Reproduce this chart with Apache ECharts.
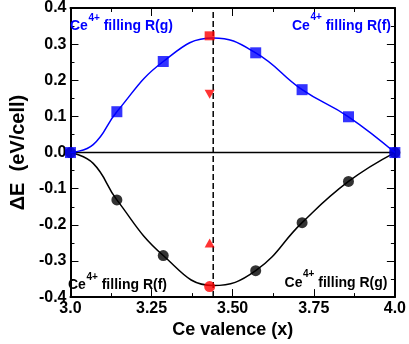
<!DOCTYPE html>
<html><head><meta charset="utf-8">
<script src="https://cdn.jsdelivr.net/npm/echarts@6/dist/echarts.min.js"></script>
<style>html,body{margin:0;padding:0;background:#fff}#c{width:409px;height:344px}</style>
</head><body><div id="c"></div>
<script>
// ---- data ----
const xTickValues = [3.0, 3.25, 3.5, 3.75, 4.0];
const xTickLabels = ['3.0', '3.25', '3.50', '3.75', '4.0'];
const yTickValues = [-0.4, -0.3, -0.2, -0.1, 0.0, 0.1, 0.2, 0.3, 0.4];
const yTickLabels = ['-0.4', '-0.3', '-0.2', '-0.1', '0.0', '0.1', '0.2', '0.3', '0.4'];

const valenceX = [3.0, 3.143, 3.286, 3.571, 3.714, 3.857, 4.0];
const blueSquares = [0.0, 0.113, 0.252, 0.276, 0.174, 0.099, 0.0];
const blackCircles = [0.0, -0.131, -0.285, -0.327, -0.194, -0.080, 0.0];

const curveX = [3.0, 3.07, 3.143, 3.286, 3.44, 3.571, 3.714, 3.857, 4.0];
const blueCurve = [0.0, 0.022, 0.113, 0.252, 0.317, 0.276, 0.174, 0.099, 0.0];
const blackCurve = [0.0, -0.03, -0.131, -0.285, -0.368, -0.327, -0.194, -0.080, 0.0];

const redX = 3.429;
const redSquare = 0.323;
const redTriDown = 0.161;
const redTriUp = -0.250;
const redCircle = -0.371;

const dashedX = 3.44;
const zeroLineX = [3.0, 4.0];
const zeroLineY = [0.0, 0.0];

const annotations = [
  {tail: ' filling R(g)', color: '#0000ff'},
  {tail: ' filling R(f)', color: '#0000ff'},
  {tail: ' filling R(f)', color: '#000000'},
  {tail: ' filling R(g)', color: '#000000'}
];

// ---- chart ----
const zip = (xs, ys) => xs.map((x, i) => [x, ys[i]]);
const FAM = '"Liberation Sans", Arial, Helvetica, sans-serif';
const chart = echarts.init(document.getElementById('c'), null, {renderer: 'canvas'});

function xFmt(v) { const i = xTickValues.findIndex(t => Math.abs(t - v) < 1e-6); return i >= 0 ? xTickLabels[i] : ''; }
function yFmt(v) { const i = yTickValues.findIndex(t => Math.abs(t - v) < 1e-6); return i >= 0 ? yTickLabels[i] : ''; }

const mctx = document.createElement('canvas').getContext('2d');
function measure(text, font) { mctx.font = font; return mctx.measureText(text).width; }

const MAIN_FONT = 'bold 14px ' + FAM;
const SUP_FONT = 'bold 10px ' + FAM;
// build one "Ce^4+ filling ..." label as three text pieces placed on a baseline
function annot(a, anchorX, baseline, alignRight) {
  const wCe = measure('Ce', MAIN_FONT);
  const wSup = measure('4+', SUP_FONT);
  const wTail = measure(a.tail, MAIN_FONT);
  const total = wCe + wSup + wTail;
  const x0 = alignRight ? anchorX - total : anchorX;
  const mainY = baseline - 0.36 * 14;
  const supY = baseline - 10 - 0.36 * 10;
  const mk = (t, x, y, font) => ({type: 'text', x: x, y: y, z: 100,
    style: {text: t, font: font, fill: a.color, align: 'left', verticalAlign: 'middle',
            textAlign: 'left', textVerticalAlign: 'middle'}});
  return [
    mk('Ce', x0, mainY, MAIN_FONT),
    mk('4+', x0 + wCe + 0.5, supY, SUP_FONT),
    mk(a.tail, x0 + wCe + wSup + 0.5, mainY, MAIN_FONT)
  ];
}

const axisCommon = {
  type: 'value',
  axisLine: {show: true, onZero: false, lineStyle: {color: '#000', width: 2}},
  axisTick: {show: true, inside: true, length: 8, lineStyle: {color: '#000', width: 1}},
  minorTick: {show: true, splitNumber: 2, length: 4, lineStyle: {color: '#000', width: 1}},
  splitLine: {show: false},
  minorSplitLine: {show: false}
};

const option = {
  animation: false,
  backgroundColor: '#fff',
  grid: {left: 58, right: 13, top: 7.5, bottom: 41.5},
  xAxis: [
    Object.assign({}, axisCommon, {
      position: 'bottom', min: 3.0, max: 4.0, interval: 0.25,
      axisLabel: {formatter: xFmt, color: '#000', fontFamily: FAM, fontWeight: 'bold', fontSize: 16, margin: 3},
      name: 'Ce valence (x)', nameLocation: 'middle', nameGap: 21,
      nameTextStyle: {color: '#000', fontFamily: FAM, fontWeight: 'bold', fontSize: 18}
    }),
    Object.assign({}, axisCommon, {
      position: 'top', min: 3.0, max: 4.0, interval: 0.25, axisLabel: {show: false}
    })
  ],
  yAxis: [
    Object.assign({}, axisCommon, {
      position: 'left', min: -0.4, max: 0.4, interval: 0.1,
      axisLabel: {formatter: yFmt, color: '#000', fontFamily: FAM, fontWeight: 'bold', fontSize: 16, margin: 4},
      name: 'ΔE  (eV/cell)', nameLocation: 'middle', nameGap: 36, nameRotate: 90,
      nameTextStyle: {color: '#000', fontFamily: FAM, fontWeight: 'bold', fontSize: 20}
    }),
    Object.assign({}, axisCommon, {
      position: 'right', min: -0.4, max: 0.4, interval: 0.1, axisLabel: {show: false}
    })
  ],
  graphic: [].concat(
    annot(annotations[0], 70, 31.5, false),
    annot(annotations[1], 390.5, 31, true),
    annot(annotations[2], 68, 290.5, false),
    annot(annotations[3], 387, 288, true)
  ),
  series: [
    {type: 'line', data: zip(zeroLineX, zeroLineY), symbol: 'none', lineStyle: {color: '#000', width: 1.5}, z: 1},
    {type: 'line', data: [[dashedX, -0.4], [dashedX, 0.4]], symbol: 'none',
      lineStyle: {color: '#000', width: 1.5, type: [6, 3]}, z: 1},
    {type: 'line', data: zip(curveX, blackCurve), smooth: 0.45, symbol: 'none', lineStyle: {color: '#000', width: 1.5}, z: 2},
    {type: 'scatter', data: zip(valenceX, blackCircles), symbol: 'circle', symbolSize: 11, itemStyle: {color: '#000'}, z: 3},
    {type: 'line', data: zip(curveX, blueCurve), smooth: 0.45, symbol: 'none', lineStyle: {color: '#0000ff', width: 1.5}, z: 4},
    {type: 'scatter', data: zip(valenceX, blueSquares), symbol: 'rect', symbolSize: 11, itemStyle: {color: '#0000ff'}, z: 5},
    {type: 'scatter', data: [[redX, redSquare]], symbol: 'rect', symbolSize: [10, 9], itemStyle: {color: '#ff0000'}, z: 6},
    {type: 'scatter', data: [[redX, redTriDown]], symbol: 'triangle', symbolRotate: 180, symbolSize: [10, 9], itemStyle: {color: '#ff0000'}, z: 6},
    {type: 'scatter', data: [[redX, redTriUp]], symbol: 'triangle', symbolSize: [10, 9], itemStyle: {color: '#ff0000'}, z: 6},
    {type: 'scatter', data: [[redX, redCircle]], symbol: 'circle', symbolSize: 11, itemStyle: {color: '#ff0000'}, z: 6}
  ]
};
chart.setOption(option);
</script>
</body></html>
